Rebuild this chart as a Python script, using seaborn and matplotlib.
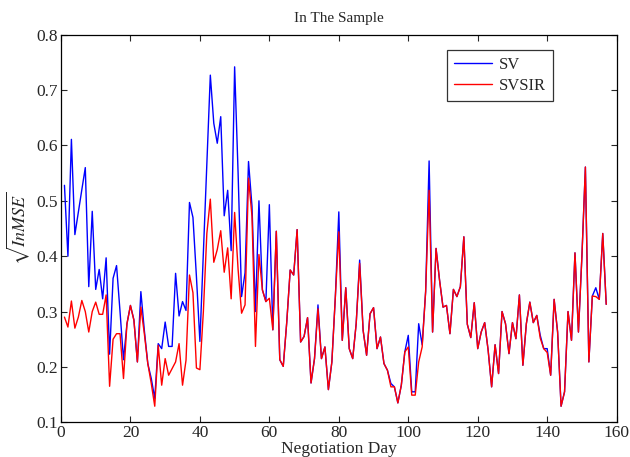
import numpy as np
import pandas as pd
import matplotlib
matplotlib.use("Agg")
import matplotlib.pyplot as plt
import seaborn as sns

days = list(range(1, 158))

sv = [0.528, 0.400, 0.611, 0.439, 0.48, 0.52, 0.56, 0.345, 0.481, 0.34,
      0.376, 0.323, 0.397, 0.223, 0.36, 0.383, 0.30, 0.213, 0.278, 0.311,
      0.285, 0.209, 0.336, 0.266, 0.206, 0.179, 0.143, 0.242, 0.233, 0.281,
      0.237, 0.237, 0.369, 0.292, 0.318, 0.302, 0.497, 0.470, 0.363, 0.246,
      0.406, 0.567, 0.727, 0.640, 0.604, 0.652, 0.473, 0.519, 0.410, 0.742,
      0.55, 0.327, 0.370, 0.571, 0.490, 0.30, 0.500, 0.339, 0.318, 0.493,
      0.267, 0.445, 0.213, 0.201, 0.28, 0.375, 0.366, 0.448, 0.245, 0.255,
      0.289, 0.171, 0.215, 0.312, 0.215, 0.236, 0.159, 0.209, 0.326, 0.480,
      0.248, 0.343, 0.233, 0.215, 0.278, 0.393, 0.266, 0.221, 0.296, 0.307,
      0.233, 0.254, 0.206, 0.194, 0.170, 0.164, 0.135, 0.167, 0.227, 0.257,
      0.155, 0.155, 0.278, 0.240, 0.336, 0.572, 0.263, 0.414, 0.357, 0.308,
      0.311, 0.260, 0.340, 0.327, 0.345, 0.435, 0.277, 0.253, 0.316, 0.233,
      0.263, 0.280, 0.23, 0.164, 0.240, 0.188, 0.300, 0.278, 0.224, 0.280,
      0.251, 0.330, 0.203, 0.278, 0.317, 0.280, 0.293, 0.257, 0.233, 0.233,
      0.185, 0.322, 0.263, 0.129, 0.155, 0.300, 0.248, 0.406, 0.263, 0.40,
      0.561, 0.209, 0.328, 0.343, 0.322, 0.441, 0.313]

svsir = [0.29, 0.272, 0.319, 0.270, 0.29, 0.32, 0.30, 0.263, 0.30, 0.317,
         0.295, 0.295, 0.33, 0.165, 0.25, 0.26, 0.26, 0.179, 0.278, 0.311,
         0.284, 0.209, 0.308, 0.26, 0.206, 0.17, 0.129, 0.239, 0.167, 0.215,
         0.185, 0.197, 0.209, 0.242, 0.167, 0.212, 0.366, 0.334, 0.198, 0.195,
         0.30, 0.441, 0.503, 0.389, 0.412, 0.446, 0.371, 0.415, 0.323, 0.479,
         0.376, 0.297, 0.312, 0.541, 0.472, 0.237, 0.403, 0.339, 0.318, 0.324,
         0.267, 0.445, 0.213, 0.201, 0.28, 0.375, 0.366, 0.448, 0.245, 0.255,
         0.289, 0.171, 0.215, 0.305, 0.215, 0.236, 0.159, 0.209, 0.326, 0.444,
         0.248, 0.343, 0.233, 0.215, 0.278, 0.387, 0.266, 0.221, 0.296, 0.307,
         0.233, 0.254, 0.206, 0.194, 0.164, 0.164, 0.135, 0.167, 0.227, 0.236,
         0.149, 0.149, 0.209, 0.236, 0.336, 0.519, 0.263, 0.414, 0.357, 0.308,
         0.311, 0.260, 0.340, 0.327, 0.345, 0.435, 0.277, 0.253, 0.316, 0.233,
         0.263, 0.280, 0.23, 0.164, 0.240, 0.188, 0.300, 0.278, 0.224, 0.280,
         0.251, 0.330, 0.203, 0.278, 0.317, 0.280, 0.293, 0.252, 0.233, 0.226,
         0.185, 0.322, 0.263, 0.129, 0.155, 0.300, 0.248, 0.406, 0.263, 0.40,
         0.561, 0.209, 0.328, 0.327, 0.322, 0.441, 0.313]

x_ticks = [0, 20, 40, 60, 80, 100, 120, 140, 160]
y_ticks = [0.1, 0.2, 0.3, 0.4, 0.5, 0.6, 0.7, 0.8]

df = pd.DataFrame({
    "day": days * 2,
    "value": sv + svsir,
    "model": ["SV"] * len(sv) + ["SVSIR"] * len(svsir),
})

sns.set_style("ticks")
plt.rcParams["font.family"] = ["Liberation Serif", "DejaVu Serif"]
plt.rcParams["mathtext.fontset"] = "stix"

fig = plt.figure(figsize=(6.3, 4.57), dpi=100)
ax = fig.add_axes([0.0968, 0.076, 0.882, 0.848])

sns.lineplot(data=df, x="day", y="value", hue="model",
             palette={"SV": "#0000ff", "SVSIR": "#ff0000"},
             linewidth=1.0, ax=ax, legend=True, estimator=None)

ax.set_xlim(0, 160)
ax.set_ylim(0.1, 0.8)
ax.set_xticks(x_ticks)
ax.set_yticks(y_ticks)
ax.set_yticklabels([f"{v:.1f}" for v in y_ticks])
ax.tick_params(direction="in", top=True, right=True, length=4,
               labelsize=12.5, width=0.8, pad=2)
for s in ax.spines.values():
    s.set_linewidth(0.9)
    s.set_color("black")

ax.set_title("In The Sample", fontsize=11, pad=9)
ax.set_xlabel("Negotiation Day", fontsize=12.5, labelpad=0)
ax.set_ylabel(r"$\sqrt{InMSE}$", fontsize=13, labelpad=3)

leg = ax.legend(loc="upper right", bbox_to_anchor=(0.885, 0.96),
                borderaxespad=0, fontsize=12, frameon=True, fancybox=False,
                handlelength=2.3, handletextpad=0.4, borderpad=0.4,
                labelspacing=0.3)
leg.get_frame().set_edgecolor("black")
leg.get_frame().set_linewidth(0.9)

fig.savefig("out.png", dpi=100)
